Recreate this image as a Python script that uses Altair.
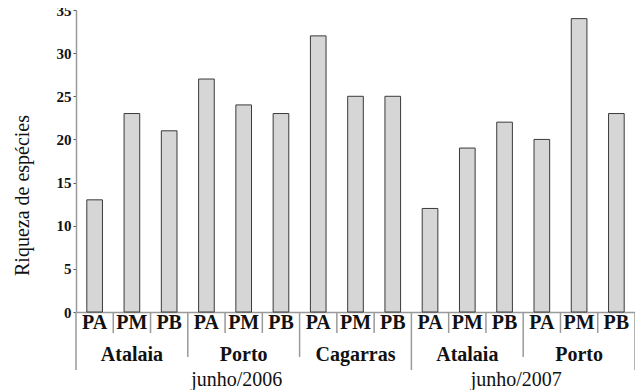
import altair as alt
import pandas as pd

# ---- data ----
zones = ["PA", "PM", "PB"]
sites = ["Atalaia", "Porto", "Cagarras", "Atalaia", "Porto"]
years = ["junho/2006", "junho/2006", "junho/2006", "junho/2007", "junho/2007"]
values = [13, 23, 21, 27, 24, 23, 32, 25, 25, 12, 19, 22, 20, 34, 23]
y_ticks = [0, 5, 10, 15, 20, 25, 30, 35]
year_labels = ["junho/2006", "junho/2007"]

FONT = "Liberation Serif"
AXIS_GRAY = "#9a9a9a"

rows = []
for g, (site, year) in enumerate(zip(sites, years)):
    for z, zone in enumerate(zones):
        i = g * 3 + z
        rows.append({"i": i, "zone": zone, "site": site, "year": year, "value": values[i]})
df = pd.DataFrame(rows)

site_df = pd.DataFrame({"site": sites, "g": list(range(len(sites)))})
year_df = pd.DataFrame({
    "year": year_labels,
    "start": [0, 9],
    "end": [9, 15],
})

# boundary lines below the axis, by hierarchy level
bounds = []
for b in range(16):
    if b in (0, 9, 15):
        lvl = "year"
    elif b % 3 == 0:
        lvl = "site"
    else:
        lvl = "zone"
    bounds.append({"b": b, "lvl": lvl})
bounds_df = pd.DataFrame(bounds)

xscale = alt.Scale(domain=[0, 15], nice=False, zero=False)
yscale = alt.Scale(domain=[0, 35], nice=False)

bars = alt.Chart(df).transform_calculate(
    x0="datum.i + 0.29", x1="datum.i + 0.71"
).mark_bar(fill="#d6d6d6", stroke="#3a3a3a", strokeWidth=1).encode(
    x=alt.X("x0:Q", scale=xscale,
            axis=alt.Axis(labels=False, ticks=False, title=None, grid=False,
                          domainColor=AXIS_GRAY, domainWidth=1.5)),
    x2="x1:Q",
    y=alt.Y("value:Q", scale=yscale,
            axis=alt.Axis(values=y_ticks, title="Riqueza de espécies", grid=False,
                          domainColor=AXIS_GRAY, domainWidth=1.5,
                          tickColor="#555555", tickSize=3, labelPadding=2,
                          labelFont=FONT, labelFontSize=15, labelFontWeight="bold",
                          labelColor="#111111",
                          titleFont=FONT, titleFontSize=20, titleFontWeight="normal",
                          titleColor="#111111", titleAngle=270,
                          titleX=-54, titleY=185, titleAlign="center",
                          titleBaseline="middle")),
    y2=alt.datum(0),
)

zone_text = alt.Chart(df).transform_calculate(
    xc="datum.i + 0.5"
).mark_text(font=FONT, fontSize=20, fontWeight="bold", color="#111111",
            baseline="middle").encode(
    x=alt.X("xc:Q", scale=xscale),
    y=alt.value(313),
    text="zone:N",
)

site_text = alt.Chart(site_df).transform_calculate(
    xc="datum.g * 3 + 1.5"
).mark_text(font=FONT, fontSize=20, fontWeight="bold", color="#111111",
            baseline="middle").encode(
    x=alt.X("xc:Q", scale=xscale),
    y=alt.value(345),
    text="site:N",
)

year_text = alt.Chart(year_df).transform_calculate(
    xc="(datum.start + datum.end) / 2"
).mark_text(font=FONT, fontSize=20, fontWeight="normal", color="#111111",
            baseline="middle", dx=-7).encode(
    x=alt.X("xc:Q", scale=xscale),
    y=alt.value(370),
    text="year:N",
)

def rule_layer(level, y2px):
    return alt.Chart(bounds_df).transform_filter(
        alt.datum.lvl == level
    ).mark_rule(color=AXIS_GRAY, strokeWidth=1.5).encode(
        x=alt.X("b:Q", scale=xscale),
        y=alt.value(302),
        y2=alt.value(y2px),
    )

chart = alt.layer(
    rule_layer("zone", 323),
    rule_layer("site", 347),
    rule_layer("year", 360),
    bars, zone_text, site_text, year_text,
).properties(
    width=559, height=302,
    autosize=alt.AutoSizeParams(type="none"),
    padding={"left": 68, "top": 2, "right": 0, "bottom": 78},
).configure_view(stroke="transparent")

chart.save("out.html", embed_options={"renderer": "svg", "actions": False})
